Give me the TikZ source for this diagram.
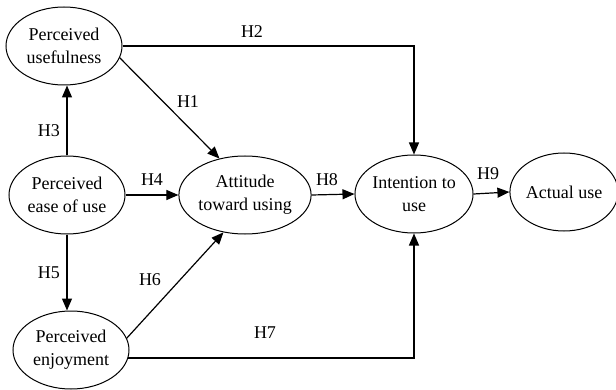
\documentclass[tikz,border=0pt]{standalone}
\usepackage{fontspec}
\setmainfont{Liberation Serif}
\usetikzlibrary{shapes.geometric,arrows.meta}

\begin{document}
\begin{tikzpicture}[x=0.5pt,y=-0.5pt,
  construct/.style={ellipse,draw,line width=0.5pt,minimum width=58pt,minimum height=39pt,
    inner sep=0pt,align=center,font=\fontsize{9}{11.5}\selectfont},
  link/.style={line width=0.6pt,-{Triangle[length=6pt,width=5pt]}},
  hyp/.style={font=\fontsize{9}{11}\selectfont}]
\path[use as bounding box] (0,0) rectangle (616,390);
% constructs
\node[construct] (pu) at (64,46) {Perceived\\usefulness};
\node[construct] (pe) at (67,195) {Perceived\\ease of use};
\node[construct] (pj) at (71,350) {Perceived\\enjoyment};
\node[construct,minimum width=55pt] (at) at (245,195) {Attitude\\toward using};
\node[construct,minimum width=55pt] (iu) at (414,194) {Intention to\\use};
\node[construct,minimum width=52pt] (au) at (564,192) {Actual use};
% paths
\draw[link] (pu.east) -| (iu.north);
\draw[link] (pu.-12) -- (at.125);
\draw[link] (pe.north) -- (pe.north |- pu.south);
\draw[link] (pe.east) -- (at.west);
\draw[link] (pe.south) -- (pe.south |- pj.north);
\draw[link] (pj.12) -- (at.-120);
\draw[link] (pj.-8) -| (iu.south);
\draw[link] (at.east) -- (iu.west);
\draw[link] (iu.east) -- (au.west);
% hypotheses
\node[hyp] (h1) at (188,102) {H1};
\node[hyp] (h2) at (252,32) {H2};
\node[hyp] (h3) at (49,131) {H3};
\node[hyp] (h4) at (152,180) {H4};
\node[hyp] (h5) at (49,273) {H5};
\node[hyp] (h6) at (150,280) {H6};
\node[hyp] (h7) at (265,333) {H7};
\node[hyp] (h8) at (327,180) {H8};
\node[hyp] (h9) at (488,174) {H9};
\end{tikzpicture}
\end{document}
